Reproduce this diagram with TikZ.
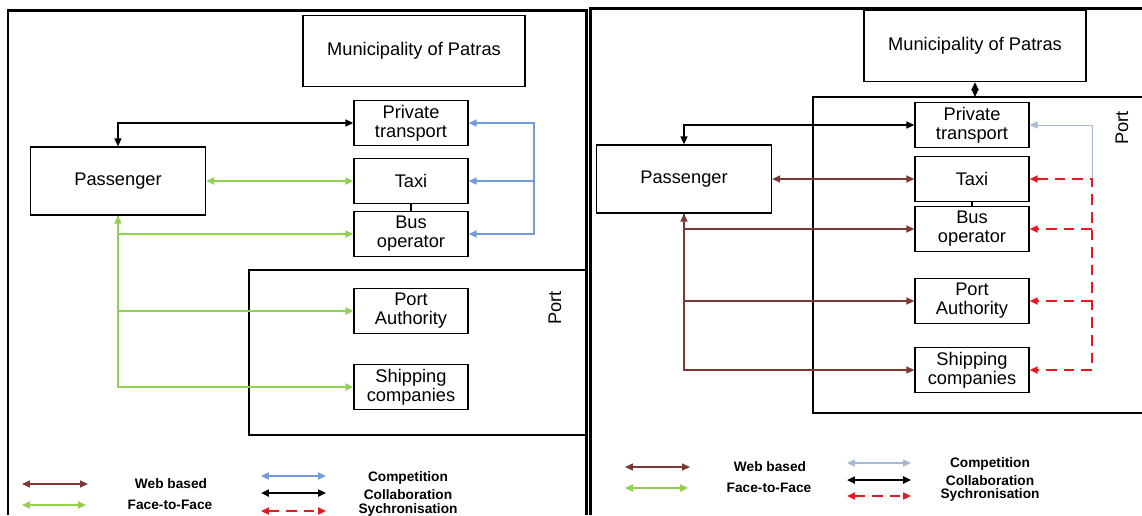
\documentclass[tikz,border=0pt]{standalone}
\usepackage{fontspec}
\setmainfont{Liberation Sans}
\usepackage{tikz}
\usetikzlibrary{arrows.meta}
\definecolor{webcol}{RGB}{125,55,55}
\definecolor{facecol}{RGB}{146,208,80}
\definecolor{compcol}{RGB}{115,155,215}
\definecolor{compfade}{RGB}{165,185,215}
\definecolor{synccol}{RGB}{230,25,35}
\tikzset{
  box/.style = {draw, thick, rectangle, align=center, inner sep=1pt,
    font=\fontsize{10.4}{10.8}\selectfont},
  unit box/.style = {box, minimum width=2.28cm, minimum height=0.9cm},
  wide box/.style = {box, minimum width=3.5cm, minimum height=1.36cm},
  town box/.style = {box, minimum width=4.44cm, minimum height=1.42cm},
  frame/.style = {line width=1.7pt},
  area/.style = {line width=0.6pt},
  port label/.style = {rotate=90, font=\fontsize{10.4}{11}\selectfont},
  key/.style = {font=\fontsize{7.8}{8}\selectfont\bfseries},
  web/.style = {webcol, line width=0.7pt, <->},
  face/.style = {facecol, line width=1pt, <->},
  comp/.style = {compcol, line width=0.8pt, <->},
  collab/.style = {black, line width=0.8pt, <->},
  sync/.style = {synccol, line width=1pt, dash pattern=on 6pt off 4pt, <->}
}

\begin{document}
\begin{tikzpicture}[
  x=0.02cm, y=-0.02cm,
  >={Triangle[length=4.5pt,width=4pt]},
]
\useasboundingbox (0,0) rectangle (1142,515);
\draw[frame] (8,515) |- (586,10) -- (586,515);
\draw[frame] (590,515) |- (1142,8);

% left panel
\node[town box] (LMun) at (414,51) {Municipality of Patras};
\node[unit box] (LPriv) at (411,123) {Private\\transport};
\node[unit box] (LTaxi) at (411,181) {Taxi};
\node[unit box] (LBus) at (411,234) {Bus\\operator};
\node[wide box] (LPass) at (118,181) {Passenger};
\draw[area] (249,270) rectangle (587,435);
\node[port label] (LPort) at (555,308) {Port};
\node[unit box] (LPA) at (411,311) {Port\\Authority};
\node[unit box] (LShip) at (411,387) {Shipping\\companies};

\draw[collab] (LPass.north) |- (LPriv.west);
\draw[face] (LPass.east) -- (LTaxi.west);
\draw[face] (LPass.south) |- (LBus.west);
\draw[face, ->] (LPass.south) |- (LPA.west);
\draw[face, ->] (LPass.south) |- (LShip.west);
\coordinate (LComp) at (534,181);
\draw[comp] (LPriv.east) -| (LComp) |- (LBus.east);
\draw[comp, ->] (LComp) -- (LTaxi.east);
\draw[thick] (LTaxi.south) -- (LBus.north);

\draw[web] (22,484) -- (88,484);
\node[key] (LWebKey) at (171,484) {Web based};
\draw[face] (22,505) -- (86,505);
\node[key] (LFaceKey) at (170,505) {Face-to-Face};
\draw[comp] (261,476) -- (326,476);
\node[key] (LCompKey) at (408,478) {Competition};
\draw[collab, line width=1.2pt] (261,493) -- (326,493);
\node[key] (LCollabKey) at (408,495) {Collaboration};
\draw[sync] (261,511) -- (326,511);
\node[key] (LSyncKey) at (408,510) {Sychronisation};

% right panel
\node[town box] (RMun) at (975,46) {Municipality of Patras};
\draw[area] (1142,97) -| (813,413) -- (1142,413);
\coordinate (RPortTop) at (975,97);
\node[port label] (RPort) at (1122,128) {Port};
\node[unit box] (RPriv) at (972,125) {Private\\transport};
\node[unit box] (RTaxi) at (972,179) {Taxi};
\node[unit box] (RBus) at (972,229) {Bus\\operator};
\node[unit box] (RPA) at (972,301) {Port\\Authority};
\node[unit box] (RShip) at (972,370) {Shipping\\companies};
\node[wide box] (RPass) at (684,179) {Passenger};

\draw[collab] (RMun.south) -- (RPortTop);
\draw[collab] (RPass.north) |- (RPriv.west);
\draw[web] (RPass.east) -- (RTaxi.west);
\draw[web] (RPass.south) |- (RBus.west);
\draw[web, ->] (RPass.south) |- (RPA.west);
\draw[web, ->] (RPass.south) |- (RShip.west);
\draw[thick] (RTaxi.south) -- (RBus.north);
\coordinate (RSync) at (1092,179);
\draw[comp, compfade, line width=0.5pt, ->] (RSync) |- (RPriv.east);
\draw[sync] (RTaxi.east) -| (RSync |- RShip.east) -- (RShip.east);
\draw[sync, ->] (RSync |- RBus.east) -- (RBus.east);
\draw[sync, ->] (RSync |- RPA.east) -- (RPA.east);

\draw[web] (625,467) -- (690,467);
\node[key] (RWebKey) at (770,467) {Web based};
\draw[face] (625,488) -- (688,488);
\node[key] (RFaceKey) at (769,488) {Face-to-Face};
\draw[comp, compfade] (847,463) -- (911,463);
\node[key] (RCompKey) at (990,464) {Competition};
\draw[collab, line width=1.2pt] (847,480) -- (911,480);
\node[key] (RCollabKey) at (990,481) {Collaboration};
\draw[sync] (847,496) -- (911,496);
\node[key] (RSyncKey) at (990,495) {Sychronisation};
\end{tikzpicture}
\end{document}
